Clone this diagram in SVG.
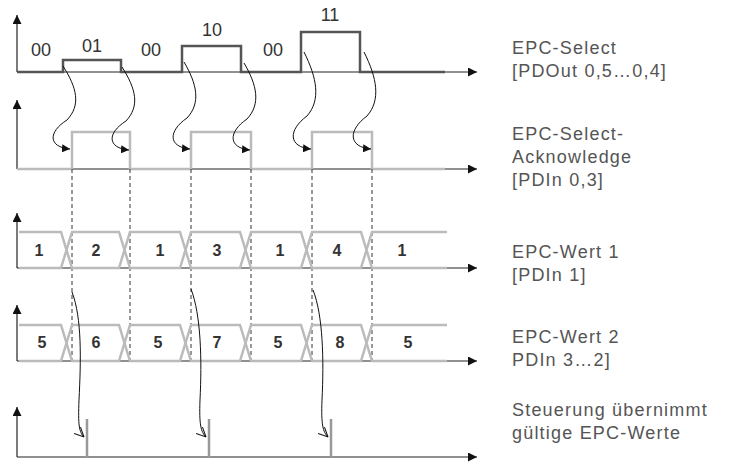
<svg xmlns="http://www.w3.org/2000/svg" width="731" height="467" viewBox="0 0 731 467">
<defs>
<marker id="ah" viewBox="0 0 10 10" refX="10" refY="5" markerWidth="8" markerHeight="8" markerUnits="userSpaceOnUse" orient="auto"><path d="M0,0 L10,5 L0,10 Z" fill="#111"/></marker>
<marker id="av" viewBox="0 0 10 10" refX="9.5" refY="5" markerWidth="10" markerHeight="10" markerUnits="userSpaceOnUse" orient="auto"><path d="M0,0.5 L9.5,5 L0,9.5" fill="none" stroke="#111" stroke-width="1"/></marker>
<marker id="ax" viewBox="0 0 10 10" refX="10" refY="5" markerWidth="10" markerHeight="9" markerUnits="userSpaceOnUse" orient="auto"><path d="M0,0 L10,5 L0,10 Z" fill="#111"/></marker>
</defs>
<style>
.axis{fill:none;stroke:#222;stroke-width:1.2}
.sig{fill:none;stroke:#555;stroke-width:2.5}
.ack{fill:none;stroke:#bbb;stroke-width:2.5}
.box{fill:none;stroke:#bbb;stroke-width:2.5}
.pulse{fill:none;stroke:#999;stroke-width:2.5}
.dash{fill:none;stroke:#333;stroke-width:1;stroke-dasharray:4,3}
.curve{fill:none;stroke:#111;stroke-width:1}
.lbl{font-family:"Liberation Sans",Arial,sans-serif;font-size:18px;fill:#333;text-anchor:middle}
.val{font-family:"Liberation Sans",Arial,sans-serif;font-size:16px;font-weight:bold;fill:#333;text-anchor:middle}
.side{font-family:"Liberation Sans",Arial,sans-serif;font-size:18px;fill:#555;letter-spacing:1.2px}
</style>

<g id="axes">
<path class="axis" d="M17,72 V15" marker-end="url(#ax)"/>
<path class="axis" d="M17,72 H477" marker-end="url(#ax)"/>
<path class="axis" d="M17,169 V100" marker-end="url(#ax)"/>
<path class="axis" d="M17,169 H477" marker-end="url(#ax)"/>
<path class="axis" d="M17,268 V213" marker-end="url(#ax)"/>
<path class="axis" d="M17,268 H477" marker-end="url(#ax)"/>
<path class="axis" d="M17,361 V305" marker-end="url(#ax)"/>
<path class="axis" d="M17,361 H477" marker-end="url(#ax)"/>
<path class="axis" d="M17,457 V407" marker-end="url(#ax)"/>
<path class="axis" d="M17,457 H477" marker-end="url(#ax)"/>
</g>

<g id="epc-select">
<path class="sig" d="M17,72 H63 V60 H121 V72 H182 V46 H241 V72 H301 V32 H360 V72 H445"/>
<text class="lbl" x="41" y="56">00</text>
<text class="lbl" x="92" y="52">01</text>
<text class="lbl" x="151" y="56">00</text>
<text class="lbl" x="212" y="36">10</text>
<text class="lbl" x="273" y="56">00</text>
<text class="lbl" x="330" y="21">11</text>
</g>

<g id="epc-ack">
<path class="ack" d="M17,169 H72"/>
<path class="ack" d="M72,169 V132 H130 V169 H191"/>
<path class="ack" d="M191,169 V132 H251 V169 H312"/>
<path class="ack" d="M312,169 V132 H372 V169 H445"/>
</g>

<g id="dashes">
<path class="dash" d="M72,169 V361 M130,169 V361 M191,169 V361 M251,169 V361 M312,169 V361 M372,169 V361"/>
</g>

<g id="epc-wert1">
<path class="box" d="M19,232 H61 L72,268 H119 L130,232 H180 L191,268 H240 L251,232 H301 L312,268 H361 L372,232 H447"/>
<path class="box" d="M19,268 H61 L72,232 H119 L130,268 H180 L191,232 H240 L251,268 H301 L312,232 H361 L372,268 H447"/>
<text class="val" x="39" y="256">1</text>
<text class="val" x="96" y="256">2</text>
<text class="val" x="160" y="256">1</text>
<text class="val" x="217" y="256">3</text>
<text class="val" x="280" y="256">1</text>
<text class="val" x="337" y="256">4</text>
<text class="val" x="402" y="256">1</text>
</g>

<g id="epc-wert2">
<path class="box" d="M19,325 H61 L72,361 H119 L130,325 H180 L191,361 H240 L251,325 H301 L312,361 H361 L372,325 H447"/>
<path class="box" d="M19,361 H61 L72,325 H119 L130,361 H180 L191,325 H240 L251,361 H301 L312,325 H361 L372,361 H447"/>
<text class="val" x="42" y="348">5</text>
<text class="val" x="96" y="348">6</text>
<text class="val" x="158" y="348">5</text>
<text class="val" x="217" y="348">7</text>
<text class="val" x="278" y="348">5</text>
<text class="val" x="340" y="348">8</text>
<text class="val" x="408" y="348">5</text>
</g>

<g id="steuerung">
<path class="pulse" d="M87,419 V457 M209,419 V457 M331,419 V457"/>
</g>

<g id="connectors">
<path class="curve" d="M63,66 C77,88 81,105 67,120 C48,132 48,147 70,149" marker-end="url(#ah)"/>
<path class="curve" d="M122,67 C136,89 140,106 126,121 C107,133 107,148 129,150" marker-end="url(#ah)"/>
<path class="curve" d="M184,62 C197,84 201,103 187,118 C168,131 168,147 190,149" marker-end="url(#ah)"/>
<path class="curve" d="M244,63 C257,85 261,104 247,119 C228,132 228,148 250,150" marker-end="url(#ah)"/>
<path class="curve" d="M304,52 C317,78 321,100 307,116 C288,130 288,147 311,149" marker-end="url(#ah)"/>
<path class="curve" d="M364,52 C377,78 381,100 367,116 C348,130 348,147 371,149" marker-end="url(#ah)"/>
<path class="curve" d="M72,292 C82,318 81,360 79,400 C78,425 79,432 84,437" marker-end="url(#av)"/>
<path class="curve" d="M191,289 C201,315 202,360 200,400 C199,425 201,432 206,437" marker-end="url(#av)"/>
<path class="curve" d="M313,290 C323,315 324,360 322,400 C321,425 323,432 328,437" marker-end="url(#av)"/>
</g>

<g id="labels">
<text class="side" x="512" y="54">EPC-Select</text>
<text class="side" x="512" y="77">[PDOut 0,5…0,4]</text>
<text class="side" x="512" y="140">EPC-Select-</text>
<text class="side" x="512" y="163">Acknowledge</text>
<text class="side" x="512" y="186">[PDIn 0,3]</text>
<text class="side" x="512" y="258">EPC-Wert 1</text>
<text class="side" x="512" y="281">[PDIn 1]</text>
<text class="side" x="512" y="343">EPC-Wert 2</text>
<text class="side" x="512" y="366">PDIn 3…2]</text>
<text class="side" x="512" y="416">Steuerung übernimmt</text>
<text class="side" x="512" y="439">gültige EPC-Werte</text>
</g>
</svg>
